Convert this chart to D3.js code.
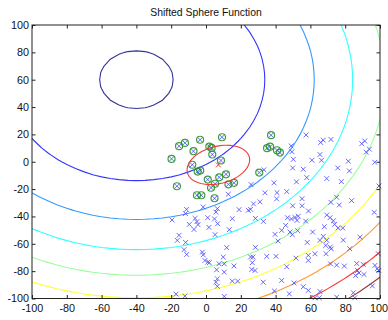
<!DOCTYPE html>
<html>
<head>
<meta charset="utf-8">
<script src="https://cdn.jsdelivr.net/npm/d3@7"></script>
<style>
  html, body { margin: 0; padding: 0; background: #fff; }
  svg { display: block; font-family: "Liberation Sans", Arial, Helvetica, sans-serif; }
</style>
</head>
<body>
<svg id="chart" width="388" height="320"></svg>
<script>
// ---- data -------------------------------------------------------------
const titleText = "Shifted Sphere Function";
const xTicks = [-100, -80, -60, -40, -20, 0, 20, 40, 60, 80, 100];
const yTicks = [-100, -80, -60, -40, -20, 0, 20, 40, 60, 80, 100];

// f(x, y) = (x - cx)^2 + (y - cy)^2 + bias
const sphereCenter = [-40, 60];
const sphereBias = -450;
const gridStep = 5;
const contourLevels = [0, 5000, 10000, 15000, 20000, 25000, 30000, 35000, 40000];

// population (blue crosses)
const populationX = [57.5,65.9,67.4,71.8,89.5,91.2,93.9,92.1,48.9,49.4,65.5,50.2,60.9,66.4,81.8,97.0,33.3,49.8,55.9,75.7,82.4,69.4,77.8,52.0,57.9,39.1,99.4,25.9,33.9,40.8,46.4,40.6,55.2,12.8,75.1,83.7,31.0,27.3,76.6,71.8,49.8,55.2,58.9,96.7,46.8,49.1,51.1,53.0,52.3,57.3,69.4,71.3,73.2,73.9,75.9,68.0,78.6,-1.6,19.0,24.3,25.6,-11.2,-11.8,6.5,5.7,-19.5,-6.3,-5.2,-4.6,-9.6,-6.9,4.9,6.7,1.7,13.4,15.1,1.0,33.0,28.4,45.8,43.5,48.3,49.6,52.7,61.3,5.2,39.7,41.4,58.2,65.5,67.4,69.4,78.9,88.5,-15.5,-16.5,-11.7,-12.6,-11.1,-2.1,-1.6,11.9,28.4,71.4,72.0,82.6,68.8,58.8,62.6,99.0,34.9,40.2,51.7,69.0,9.9,25.6,27.0,-0.6,1.0,1.9,7.5,10.5,16.1,26.6,26.3,28.2,6.1,10.5,6.5,5.7,6.5,15.1,18.2,32.9,43.5,50.6,46.4,71.6,75.1,79.5,86.6,90.4,87.1,87.9,90.8,97.1,98.4,99.3,86.0,95.6,55.9,58.8,65.5,65.1,85.5,39.3,47.9,75.1,84.7,62.6,-17.2,-12.1,10.5,58.8];
const populationY = [19.6,14.1,15.8,16.3,13.2,15.2,9.2,7.0,11.6,7.3,5.3,1.8,1.1,1.1,0.4,-0.4,-5.9,-4.5,-5.5,-4.5,-6.7,-12.3,-14.5,-14.7,-11.6,-15.4,-17.7,-16.7,-22.7,-22.6,-21.8,-27.1,-27.0,-23.8,-26.0,-28.4,-29.3,-30.8,-31.6,-29.7,-32.2,-32.2,-36.0,-37.0,-40.9,-41.8,-40.7,-39.8,-42.9,-43.4,-39.0,-40.9,-43.2,-45.8,-48.4,-47.5,-48.5,-33.1,-35.0,-35.5,-34.8,-34.8,-37.9,-34.3,-36.8,-42.6,-41.4,-43.8,-46.0,-45.8,-49.5,-41.8,-45.3,-48.0,-49.7,-41.6,-40.9,-43.6,-41.4,-46.5,-50.2,-51.4,-53.3,-50.4,-51.4,-53.3,-53.1,-58.0,-59.0,-57.5,-54.6,-57.5,-57.3,-55.1,-53.8,-57.5,-59.0,-64.3,-67.8,-66.1,-68.1,-62.8,-62.6,-62.4,-63.7,-63.6,-61.2,-68.5,-67.3,-67.3,-69.2,-69.2,-70.5,-67.3,-69.7,-69.7,-69.7,-72.2,-73.4,-73.8,-74.6,-74.6,-76.2,-73.8,-78.8,-79.5,-79.0,-80.7,-85.6,-88.1,-91.1,-87.3,-87.3,-88.1,-86.8,-88.6,-76.8,-74.7,-75.6,-76.3,-74.4,-75.1,-79.5,-81.3,-82.4,-75.8,-78.2,-79.5,-83.2,-90.8,-91.4,-94.1,-94.9,-99.5,-99.5,-94.5,-96.6,-99.0,-95.8,-99.5,-96.8,-98.3,-98.5,-72.2];

// selected individuals (green rings)
const selectedX = [-15.5,-12.1,-3.4,9.2,-7.2,1.9,3.2,3.6,-19.8,8.6,-7.9,-3.3,-4.8,11.5,7.6,1.0,5.2,2.9,12.9,16.1,-16.7,-5.2,-2.7,4.9,30.6,37.4,35.1,36.8,40.8,42.5];
const selectedY = [11.4,13.8,16.1,17.9,7.7,11.1,10.1,5.3,2.1,0.9,-2.2,-6.4,-7.2,-9.2,-11.4,-13.0,-16.1,-19.0,-16.5,-15.4,-17.9,-24.5,-24.5,-26.7,-7.9,19.4,9.9,11.0,8.4,6.7];

// distribution mean and its 1-sigma ellipse (conjugate semi-axes)
const meanPoint = [7.1, -2.3];
const ellipseAxisU = [17.8, 5.7];
const ellipseAxisV = [2.6, -13.2];

// ---- layout -------------------------------------------------------------
const plot = { left: 32, top: 25, right: 380, bottom: 298.5 };

const svg = d3.select("#chart");
const x = d3.scaleLinear().domain([-100, 100]).range([plot.left, plot.right]);
const y = d3.scaleLinear().domain([-100, 100]).range([plot.bottom, plot.top]);

svg.append("defs").append("clipPath").attr("id", "plotClip")
  .append("rect")
  .attr("x", plot.left).attr("y", plot.top)
  .attr("width", plot.right - plot.left).attr("height", plot.bottom - plot.top);

// jet colormap
function jet(t) {
  const c = v => Math.max(0, Math.min(1, v));
  const r = c(Math.min(4 * t - 1.5, -4 * t + 4.5));
  const g = c(Math.min(4 * t - 0.5, -4 * t + 3.5));
  const b = c(Math.min(4 * t + 0.5, -4 * t + 2.5));
  return d3.rgb(r * 255, g * 255, b * 255).toString();
}

// ---- contours ------------------------------------------------------------
const n = Math.round(200 / gridStep) + 1;
const grid = new Array(n * n);
for (let j = 0; j < n; j++) {
  for (let i = 0; i < n; i++) {
    const gx = -100 + i * gridStep, gy = -100 + j * gridStep;
    grid[i + j * n] = (gx - sphereCenter[0]) ** 2 + (gy - sphereCenter[1]) ** 2 + sphereBias;
  }
}
const contours = d3.contours().size([n, n]).thresholds(contourLevels)(grid);
const toPlot = d3.geoTransform({
  point: function (cx, cy) {
    this.stream.point(x(-100 + (cx - 0.5) * gridStep), y(-100 + (cy - 0.5) * gridStep));
  }
});
const contourPath = d3.geoPath(toPlot);
const lvMin = d3.min(contourLevels), lvMax = d3.max(contourLevels);

svg.append("g").attr("clip-path", "url(#plotClip)")
  .selectAll("path").data(contours).join("path")
  .attr("d", contourPath)
  .attr("fill", "none")
  .attr("stroke", d => jet((d.value - lvMin) / (lvMax - lvMin)))
  .attr("stroke-opacity", 0.8)
  .attr("stroke-width", 1.1);

// ---- markers ----------------------------------------------------------------
function crossPath(cx, cy, s) {
  return `M${cx - s},${cy - s}L${cx + s},${cy + s}M${cx - s},${cy + s}L${cx + s},${cy - s}`;
}
const crossSize = 2.4;

const population = populationX.map((v, i) => [v, populationY[i]]);
const selected = selectedX.map((v, i) => [v, selectedY[i]]);

svg.append("g")
  .selectAll("path").data(population.concat(selected)).join("path")
  .attr("d", d => crossPath(x(d[0]), y(d[1]), crossSize))
  .attr("stroke", "#4545ff")
  .attr("stroke-width", 1)
  .attr("stroke-opacity", 0.8)
  .attr("fill", "none");

svg.append("g")
  .selectAll("circle").data(selected).join("circle")
  .attr("cx", d => x(d[0]))
  .attr("cy", d => y(d[1]))
  .attr("r", 3.5)
  .attr("fill", "none")
  .attr("stroke", "#269426")
  .attr("stroke-opacity", 0.9)
  .attr("stroke-width", 1.2);

// ---- mean and ellipse -----------------------------------------------------------
const ellipsePts = d3.range(0, 361, 6).map(a => {
  const t = a * Math.PI / 180;
  return [
    meanPoint[0] + ellipseAxisU[0] * Math.cos(t) + ellipseAxisV[0] * Math.sin(t),
    meanPoint[1] + ellipseAxisU[1] * Math.cos(t) + ellipseAxisV[1] * Math.sin(t)
  ];
});
svg.append("path")
  .datum(ellipsePts)
  .attr("d", d3.line().x(d => x(d[0])).y(d => y(d[1])).curve(d3.curveLinearClosed))
  .attr("fill", "none")
  .attr("stroke", "#f23a3a")
  .attr("stroke-width", 1.1);

svg.append("path")
  .attr("d", crossPath(x(meanPoint[0]), y(meanPoint[1]), crossSize))
  .attr("stroke", "#f23a3a")
  .attr("stroke-width", 1)
  .attr("fill", "none");

// ---- axes -------------------------------------------------------------------
const fmt = d => String(d);
const tick = 3.5;
const axisColor = "#222";

function styleAxis(g) {
  g.select(".domain").remove();
  g.selectAll(".tick line").attr("stroke", axisColor);
  g.selectAll(".tick text").attr("fill", "#111").style("font-size", "10.8px")
    .style("font-family", '"Liberation Sans", Arial, Helvetica, sans-serif');
}

const bottomAxis = svg.append("g").attr("transform", `translate(0,${plot.bottom})`)
  .call(d3.axisBottom(x).tickValues(xTicks).tickFormat(fmt).tickSizeInner(-tick).tickSizeOuter(0).tickPadding(5.5))
  .call(styleAxis);
// keep the last label inside the canvas
bottomAxis.selectAll(".tick text").filter(d => d === d3.max(xTicks)).attr("dx", -1.5);

svg.append("g").attr("transform", `translate(0,${plot.top})`)
  .call(d3.axisTop(x).tickValues(xTicks).tickFormat("").tickSizeInner(-tick).tickSizeOuter(0))
  .call(styleAxis);
svg.append("g").attr("transform", `translate(${plot.left},0)`)
  .call(d3.axisLeft(y).tickValues(yTicks).tickFormat(fmt).tickSizeInner(-tick).tickSizeOuter(0).tickPadding(3))
  .call(styleAxis);
svg.append("g").attr("transform", `translate(${plot.right},0)`)
  .call(d3.axisRight(y).tickValues(yTicks).tickFormat("").tickSizeInner(-tick).tickSizeOuter(0))
  .call(styleAxis);

svg.append("rect")
  .attr("x", plot.left).attr("y", plot.top)
  .attr("width", plot.right - plot.left).attr("height", plot.bottom - plot.top)
  .attr("fill", "none").attr("stroke", axisColor).attr("stroke-width", 1);

// ---- title ------------------------------------------------------------------
svg.append("text")
  .attr("x", (plot.left + plot.right) / 2)
  .attr("y", 16)
  .attr("text-anchor", "middle")
  .style("font-size", "10.4px")
  .attr("fill", "#111")
  .text(titleText);
</script>
</body>
</html>
